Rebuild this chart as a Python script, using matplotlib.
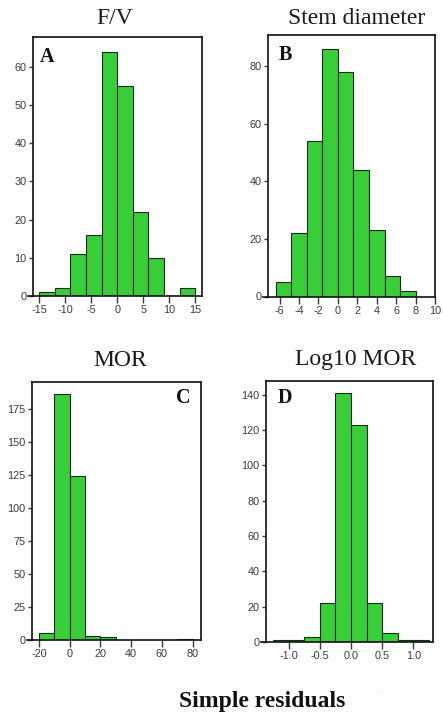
import numpy as np
import matplotlib
matplotlib.use("Agg")
import matplotlib.pyplot as plt
from matplotlib.lines import Line2D

plt.rcParams["axes.unicode_minus"] = False

# Residual histograms: bin edges and counts for each model
fv_edges = [-15, -12, -9, -6, -3, 0, 3, 6, 9, 12, 15]
fv_counts = [1, 2, 11, 16, 64, 55, 22, 10, 0, 2]

stem_edges = [-6.4, -4.8, -3.2, -1.6, 0.0, 1.6, 3.2, 4.8, 6.4, 8.0]
stem_counts = [5, 22, 54, 86, 78, 44, 23, 7, 2]

mor_edges = [-20, -10, 0, 10, 20, 30, 40, 50, 60, 70, 80]
mor_counts = [5, 186, 124, 3, 2, 0, 0, 0, 0, 1]

logmor_edges = [-1.25, -1.0, -0.75, -0.5, -0.25, 0.0, 0.25, 0.5, 0.75, 1.0, 1.25]
logmor_counts = [1, 1, 3, 22, 141, 123, 22, 5, 1, 1]

titles = ["F/V", "Stem diameter", "MOR", "Log10 MOR"]
letters = ["A", "B", "C", "D"]

fv_xticks = [-15, -10, -5, 0, 5, 10, 15]
fv_yticks = [0, 10, 20, 30, 40, 50, 60]
stem_xticks = [-6, -4, -2, 0, 2, 4, 6, 8, 10]
stem_yticks = [0, 20, 40, 60, 80]
mor_xticks = [-20, 0, 20, 40, 60, 80]
mor_yticks = [0, 25, 50, 75, 100, 125, 150, 175]
logmor_xticks = [-1.0, -0.5, 0.0, 0.5, 1.0]
logmor_xlabels = ["-1.0", "-0.5", "0.0", "0.5", "1.0"]
logmor_yticks = [0, 20, 40, 60, 80, 100, 120, 140]

W, H = 443, 716
fig = plt.figure(figsize=(W / 100, H / 100), dpi=100)
fig.patch.set_facecolor("white")

def px_axes(left, top, right, bottom):
    return fig.add_axes([left / W, 1 - bottom / H, (right - left) / W, (bottom - top) / H])

panels = [
    dict(box=(33, 37, 202, 296), edges=fv_edges, counts=fv_counts,
         xlim=(-16.2, 16.3), ylim=(0, 67.8), xticks=fv_xticks, xlabels=None,
         yticks=fv_yticks, title_xy=(115, 19), letter_xy=(47, 57)),
    dict(box=(268, 35, 435, 296.5), edges=stem_edges, counts=stem_counts,
         xlim=(-7.2, 10.0), ylim=(0, 90.8), xticks=stem_xticks, xlabels=None,
         yticks=stem_yticks, title_xy=(357, 18), letter_xy=(285, 55)),
    dict(box=(31.7, 382.3, 201, 640), edges=mor_edges, counts=mor_counts,
         xlim=(-24.7, 85.4), ylim=(0, 195), xticks=mor_xticks, xlabels=None,
         yticks=mor_yticks, title_xy=(120, 360), letter_xy=(183, 398)),
    dict(box=(265.7, 380.7, 433.3, 642), edges=logmor_edges, counts=logmor_counts,
         xlim=(-1.365, 1.317), ylim=(0, 148), xticks=logmor_xticks,
         xlabels=logmor_xlabels, yticks=logmor_yticks,
         title_xy=(356, 359), letter_xy=(285, 398)),
]

bar_color = "#3acd3a"
tick_color = "#3a3a3a"
tick_font = dict(family="Liberation Sans", size=7.8)

for p, title, letter in zip(panels, titles, letters):
    ax = px_axes(*p["box"])
    edges = np.asarray(p["edges"], dtype=float)
    widths = np.diff(edges)
    ax.bar(edges[:-1], p["counts"], width=widths, align="edge",
           color=bar_color, edgecolor="#1a2a1a", linewidth=0.8, zorder=2)
    ax.set_xlim(*p["xlim"])
    ax.set_ylim(*p["ylim"])
    ax.set_xticks(p["xticks"])
    if p["xlabels"] is not None:
        ax.set_xticklabels(p["xlabels"])
    ax.set_yticks(p["yticks"])
    for s in ax.spines.values():
        s.set_linewidth(1.2)
        s.set_color("#111111")
    ax.tick_params(axis="x", direction="out", length=5, width=1.0,
                   color=tick_color, pad=1.5, labelcolor=tick_color)
    ax.tick_params(axis="y", direction="out", length=3, width=1.0,
                   color=tick_color, pad=1.5, labelcolor=tick_color)
    for lab in ax.get_xticklabels() + ax.get_yticklabels():
        lab.set_fontfamily(tick_font["family"])
        lab.set_fontsize(tick_font["size"])
    # baseline running slightly past the left frame
    ax.add_line(Line2D([-0.03, 0], [0, 0], transform=ax.transAxes,
                       color="#111111", lw=1.2, clip_on=False))
    tx, ty = p["title_xy"]
    fig.text(tx / W, 1 - ty / H, title, ha="center", va="center",
             family="Liberation Serif", fontsize=17, color="#1a1a1a")
    lx, ly = p["letter_xy"]
    fig.text(lx / W, 1 - ly / H, letter, ha="center", va="center",
             family="Liberation Serif", fontsize=14.5, fontweight="bold",
             color="#111111")

fig.text(262 / W, 1 - 701 / H, "Simple residuals", ha="center", va="center",
         family="Liberation Serif", fontsize=17, fontweight="bold", color="#111111")
fig.text(382 / W, 1 - 693 / H, "· · ·", ha="center", va="center",
         family="DejaVu Sans", fontsize=6, color="#c8c8c8")

fig.savefig("out.png", dpi=100, facecolor="white")
